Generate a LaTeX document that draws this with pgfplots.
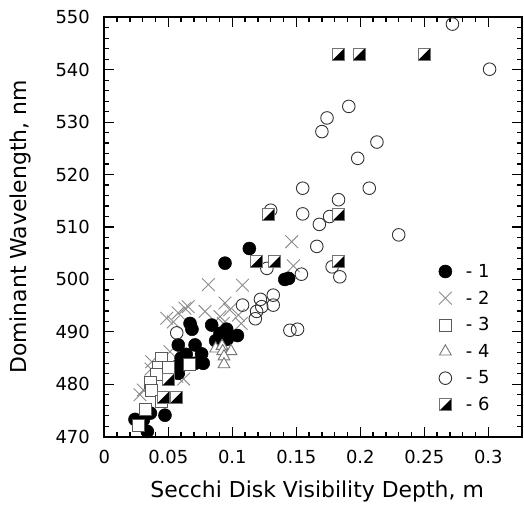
\documentclass[border=0pt]{standalone}
\usepackage{fontspec}
\setmainfont{DejaVu Sans}
\usepackage{pgfplots}
\pgfplotsset{compat=1.18}
\pgfdeclareplotmark{halfsq}{%
  \pgfpathrectangle{\pgfpoint{-\pgfplotmarksize}{-\pgfplotmarksize}}{\pgfpoint{2\pgfplotmarksize}{2\pgfplotmarksize}}%
  \pgfsetfillcolor{white}\pgfusepath{fill}%
  \pgfpathmoveto{\pgfpoint{-\pgfplotmarksize}{-\pgfplotmarksize}}%
  \pgfpathlineto{\pgfpoint{\pgfplotmarksize}{-\pgfplotmarksize}}%
  \pgfpathlineto{\pgfpoint{\pgfplotmarksize}{\pgfplotmarksize}}%
  \pgfpathclose
  \pgfsetfillcolor{black}\pgfusepath{fill}%
  \pgfpathrectangle{\pgfpoint{-\pgfplotmarksize}{-\pgfplotmarksize}}{\pgfpoint{2\pgfplotmarksize}{2\pgfplotmarksize}}%
  \pgfusepath{stroke}%
}
\pgfplotsset{
  sone/.style={only marks, mark=*, mark size=6.5bp, mark options={draw=black, fill=black, line width=0.5bp}},
  stwo/.style={only marks, mark=x, mark size=9bp, mark options={draw=black!45, line width=0.9bp}},
  sthree/.style={only marks, mark=square*, mark size=6bp, mark options={draw=black!65, fill=white, line width=0.9bp}},
  sfour/.style={only marks, mark=triangle*, mark size=6.8bp, mark options={draw=black!55, fill=white, line width=0.9bp}},
  sfive/.style={only marks, mark=o, mark size=6.3bp, mark options={draw=black!80, line width=0.9bp}},
  ssix/.style={only marks, mark=halfsq, mark size=6bp, mark options={draw=black!55, line width=0.9bp}},
}
\begin{document}
\begin{tikzpicture}
\begin{axis}[
  scale only axis, width=417.4bp, height=419.4bp,
  xmin=0, xmax=0.3261, ymin=470, ymax=550,
  xtick={0,0.05,0.1,0.15,0.2,0.25,0.3},
  xticklabels={0,0.05,0.1,0.15,0.2,0.25,0.3},
  ytick={470,480,...,550},
  minor x tick num=4, minor y tick num=4,
  major tick length=10bp, minor tick length=5bp,
  tick style={black, line width=1.3pt},
  axis line style={line width=1.7pt},
  /pgf/number format/assume math mode=true,
  /pgf/number format/1000 sep={},
  tick label style={font=\fontsize{18}{18}\selectfont},
  xticklabel style={yshift=-10bp},
  yticklabel style={xshift=-11bp},
  xlabel={Secchi Disk Visibility Depth, m},
  ylabel={Dominant Wavelength, nm},
  label style={font=\fontsize{22}{22}\selectfont},
  xlabel style={at={(axis description cs:0.51,-0.1311)}, anchor=center},
  ylabel style={at={(axis description cs:-0.2012,0.5)}, anchor=center},
  legend image code/.code={\draw[#1] plot coordinates {(0bp,0bp)};},
  legend style={draw=none, fill=none, at={(axis cs:0.2589,503.7)}, anchor=north west,
    font=\fontsize{18}{18}\selectfont, row sep=8bp, legend cell align=left,
    /tikz/every odd column/.append style={column sep=12bp}},
]
\addlegendimage{sone}\addlegendentry{- 1}
\addlegendimage{stwo}\addlegendentry{- 2}
\addlegendimage{sthree}\addlegendentry{- 3}
\addlegendimage{sfour}\addlegendentry{- 4}
\addlegendimage{sfive}\addlegendentry{- 5}
\addlegendimage{ssix}\addlegendentry{- 6}

% series 2: crosses
\addplot[stwo, forget plot] table {
x y
0.1464 507.2
0.1477 502.6
0.0813 499.0
0.1080 498.9
0.0488 492.6
0.0577 493.6
0.0539 491.9
0.0630 494.5
0.0656 494.8
0.0787 493.9
0.0943 495.5
0.0980 494.2
0.0904 492.9
0.1047 493.2
0.1070 491.6
0.0930 491.6
0.0513 486.2
0.0370 484.3
0.0365 482.9
0.0305 478.9
0.0279 478.0
0.0566 481.5
0.0620 481.0
};
% series 1: filled circles
\addplot[sone, forget plot] table {
x y
0.1133 505.9
0.0943 503.1
0.1410 500.0
0.1440 500.2
0.0670 491.6
0.0685 490.5
0.0839 491.3
0.0870 488.3
0.0904 489.7
0.0956 490.5
0.0960 488.6
0.1040 489.3
0.0578 487.5
0.0709 487.5
0.0600 485.0
0.0640 485.7
0.0760 485.8
0.0709 484.0
0.0773 484.0
0.0573 483.5
0.0578 482.1
0.0240 473.3
0.0336 471.0
0.0474 474.1
0.0360 474.5
0.0305 473.2
};
% series 4: triangles
\addplot[sfour, forget plot] table {
x y
0.0870 486.8
0.0920 487.3
0.0925 486.3
0.0990 486.3
0.0935 485.3
0.0935 483.8
};
% series 3: squares
\addplot[sthree, forget plot] table {
x y
0.0445 485.0
0.0425 483.3
0.0410 481.8
0.0357 480.3
0.0365 478.8
0.0664 483.7
0.0320 475.2
0.0450 476.8
0.0266 472.2
0.0500 483.2
};
% series 5: open circles
\addplot[sfive, forget plot] table {
x y
0.272 548.7
0.301 540.1
0.191 533.0
0.174 530.8
0.170 528.2
0.213 526.2
0.198 523.1
0.155 517.4
0.207 517.4
0.183 515.2
0.155 512.5
0.130 513.2
0.176 512.0
0.168 510.5
0.230 508.5
0.166 506.3
0.154 501.0
0.127 502.1
0.178 502.4
0.184 500.5
0.145 490.3
0.151 490.5
0.108 495.1
0.122 496.2
0.132 497.0
0.132 495.1
0.123 494.8
0.119 493.9
0.118 492.5
0.0566 489.8
};
% series 6: half-filled squares
\addplot[ssix, forget plot] table {
x y
0.0460 477.5
0.0560 477.5
0.0505 481.0
0.1185 503.4
0.1330 503.4
0.1830 503.4
0.1280 512.3
0.1830 512.3
0.1830 543.0
0.1990 543.0
0.2500 543.0
};
\end{axis}
\path ([xshift=-104.3bp,yshift=-73.3bp]current axis.south west) rectangle ([xshift=2.3bp,yshift=17.3bp]current axis.north east);
\end{tikzpicture}
\end{document}
